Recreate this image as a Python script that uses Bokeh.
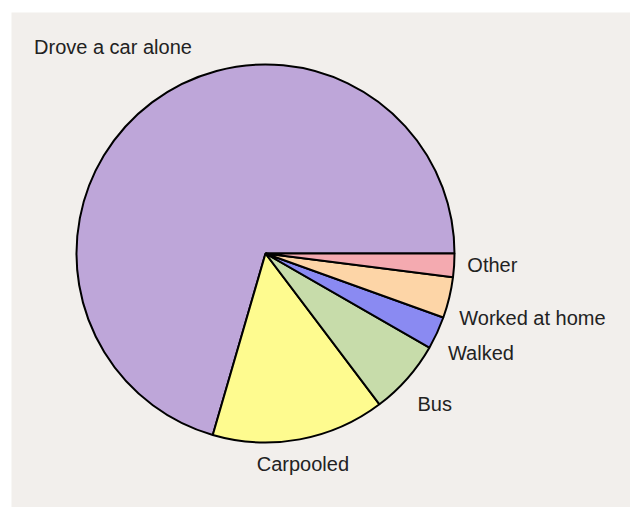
import math
from bokeh.plotting import figure
from bokeh.models import Range1d, ColumnDataSource
from bokeh.core.properties import value
from bokeh.embed import file_html
from bokeh.resources import INLINE

# ---- data (percent of commuters) ----
categories = ["Drove a car alone", "Carpooled", "Bus", "Walked", "Worked at home", "Other"]
shares = [70.5, 14.8, 6.4, 2.8, 3.5, 2.0]

# ---- styles / layout ----
colors = ["#bea6d9", "#fefb8f", "#c7dcaa", "#8a8af2", "#fdd5a7", "#f4aab0"]
label_radius = [1.36, 1.13, 1.13, 1.10, 1.08, 1.07]
label_shift_deg = [-0.5, -0.35, -3.25, -3.8, -4.85, 0.2]
label_align = ["center", "center", "left", "left", "left", "left"]

W, H = 630, 507
BL, BT = 11, 12
FW, FH = W - BL, H - BT
R_PX = 189.0
CX_PX, CY_PX = 254.0, 241.0  # pie centre inside the frame (from top-left)

total = sum(shares)
starts, ends, lx, ly = [], [], [], []
acc = 0.0
for i, s in enumerate(shares):
    a0 = acc / total * 2 * math.pi
    acc += s
    a1 = acc / total * 2 * math.pi
    starts.append(a0)
    ends.append(a1)
    mid = (a0 + a1) / 2 + math.radians(label_shift_deg[i])
    lx.append(label_radius[i] * math.cos(mid))
    ly.append(label_radius[i] * math.sin(mid))

src = ColumnDataSource(dict(cat=categories, start=starts, end=ends, color=colors))
lab = ColumnDataSource(dict(x=lx, y=ly, text=categories, align=label_align))

p = figure(width=W, height=H, output_backend="svg", toolbar_location=None,
           x_range=Range1d(-CX_PX / R_PX, (FW - CX_PX) / R_PX),
           y_range=Range1d(-(FH - CY_PX) / R_PX, CY_PX / R_PX),
           x_axis_type=None, y_axis_type=None,
           min_border_left=BL, min_border_top=BT, min_border_right=0, min_border_bottom=0,
           background_fill_color="#f2efec", border_fill_color="white",
           outline_line_color=None)
p.grid.visible = False

p.wedge(x=0, y=0, radius=1, start_angle="start", end_angle="end", direction="anticlock",
        fill_color="color", line_color="black", line_width=2, source=src)

p.text(x="x", y="y", text="text", text_align="align", text_baseline="middle",
       text_font=value("Liberation Sans"), text_font_size="20px", text_color="#222222",
       source=lab)

open("out.html", "w").write(file_html(p, INLINE))
